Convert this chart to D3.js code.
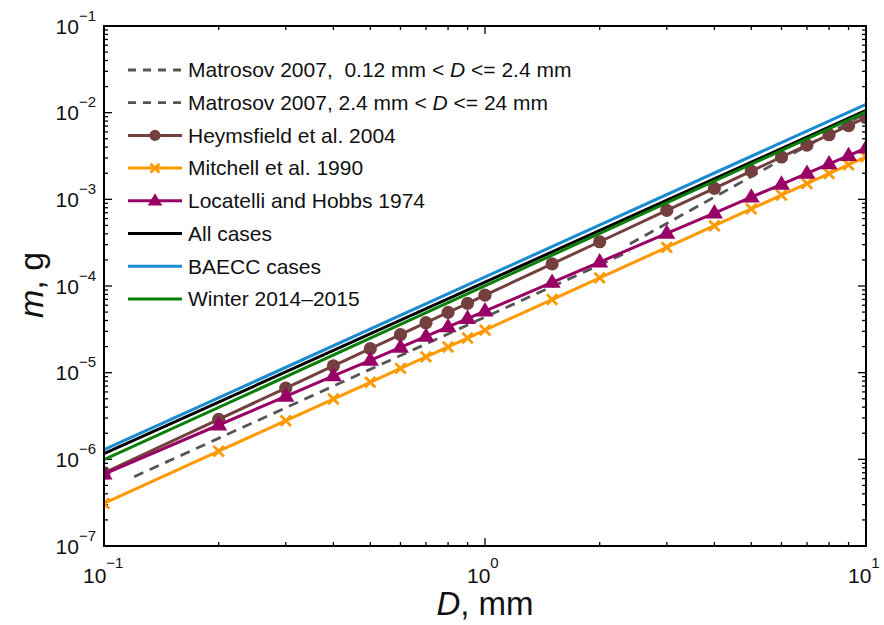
<!DOCTYPE html>
<html>
<head>
<meta charset="utf-8">
<script src="https://cdn.jsdelivr.net/npm/d3@7"></script>
<style>
  body { margin: 0; background: #fff; }
  svg { display: block; font-family: "Liberation Sans", Arial, sans-serif; }
</style>
</head>
<body>
<div id="chart"></div>
<script>
// ── Data ──
const D_MARKS = [0.1, 0.2, 0.3, 0.4, 0.5, 0.6, 0.7, 0.8, 0.9, 1, 1.5, 2, 3, 4, 5, 6, 7, 8, 9, 10];

const heymsfield = [6.98e-7, 2.89e-6, 6.64e-6, 1.20e-5, 1.89e-5, 2.75e-5, 3.77e-5, 4.96e-5, 6.31e-5, 7.83e-5,
                    1.80e-4, 3.24e-4, 7.45e-4, 1.34e-3, 2.12e-3, 3.08e-3, 4.23e-3, 5.56e-3, 7.08e-3, 8.79e-3];
const mitchell   = [3.10e-7, 1.24e-6, 2.79e-6, 4.96e-6, 7.75e-6, 1.12e-5, 1.52e-5, 1.98e-5, 2.51e-5, 3.10e-5,
                    6.98e-5, 1.24e-4, 2.79e-4, 4.96e-4, 7.75e-4, 1.12e-3, 1.52e-3, 1.98e-3, 2.51e-3, 3.10e-3];
const locatelli  = [6.76e-7, 2.49e-6, 5.34e-6, 9.16e-6, 1.39e-5, 1.96e-5, 2.62e-5, 3.37e-5, 4.21e-5, 5.13e-5,
                    1.10e-4, 1.89e-4, 4.05e-4, 6.95e-4, 1.06e-3, 1.49e-3, 1.99e-3, 2.56e-3, 3.19e-3, 3.89e-3];

const matrosovD1 = [0.12, 2.4];
const matrosovM1 = [6.3e-7, 2.52e-4];
const matrosovD2 = [2.4, 10];
const matrosovM2 = [3.06e-4, 9.9e-3];

const FIT_D    = [0.1, 10];
const allCases = [1.16e-6, 1.06e-2];
const baecc    = [1.29e-6, 1.25e-2];
const winter   = [9.9e-7, 1.02e-2];

const X_TICK_EXP = [-1, 0, 1];
const Y_TICK_EXP = [-7, -6, -5, -4, -3, -2, -1];

// label parts: [text, italic]
const SERIES = [
  { label: [["Matrosov 2007,\u00a0\u00a00.12 mm < ", 0], ["D", 1], [" <= 2.4 mm", 0]],
    D: matrosovD1, m: matrosovM1, color: "#555555", dash: "10,7", width: 2.8 },
  { label: [["Matrosov 2007, 2.4 mm < ", 0], ["D", 1], [" <= 24 mm", 0]],
    D: matrosovD2, m: matrosovM2, color: "#555555", dash: "10,7", width: 2.8 },
  { label: [["Heymsfield et al. 2004", 0]],   D: D_MARKS, m: heymsfield, color: "#74403f", marker: "circle",   width: 3 },
  { label: [["Mitchell et al. 1990", 0]],     D: D_MARKS, m: mitchell,   color: "#ff9900", marker: "x",        width: 3 },
  { label: [["Locatelli and Hobbs 1974", 0]], D: D_MARKS, m: locatelli,  color: "#990066", marker: "triangle", width: 3 },
  { label: [["All cases", 0]],                D: FIT_D, m: allCases, color: "#000000", width: 3 },
  { label: [["BAECC cases", 0]],              D: FIT_D, m: baecc,    color: "#1a8bd0", width: 3 },
  { label: [["Winter 2014\u20132015", 0]],    D: FIT_D, m: winter,   color: "#0a7f0a", width: 3 },
];

// ── Layout ──
const W = 884, H = 625;
const L = 104, R = 866, T = 26, B = 546;

const svg = d3.select("#chart").append("svg").attr("width", W).attr("height", H);

const x = d3.scaleLog().domain([0.1, 10]).range([L, R]);
const y = d3.scaleLog().domain([1e-7, 1e-1]).range([B, T]);

svg.append("defs").append("clipPath").attr("id", "plot-clip")
  .append("rect").attr("x", L).attr("y", T).attr("width", R - L).attr("height", B - T);

// ── Ticks (inward, mirrored on all four sides) ──
const isMajor = v => Math.abs(Math.log10(v) - Math.round(Math.log10(v))) < 1e-9;

const tickG = svg.append("g").attr("stroke", "#000").attr("stroke-width", 1.3);
x.ticks().forEach(v => {
  const len = isMajor(v) ? 8 : 4;
  tickG.append("line").attr("x1", x(v)).attr("x2", x(v)).attr("y1", B).attr("y2", B - len);
  tickG.append("line").attr("x1", x(v)).attr("x2", x(v)).attr("y1", T).attr("y2", T + len);
});
y.ticks().forEach(v => {
  const len = isMajor(v) ? 8 : 4;
  tickG.append("line").attr("y1", y(v)).attr("y2", y(v)).attr("x1", L).attr("x2", L + len);
  tickG.append("line").attr("y1", y(v)).attr("y2", y(v)).attr("x1", R).attr("x2", R - len);
});

// ── Series ──
const plot = svg.append("g").attr("clip-path", "url(#plot-clip)");
const line = d3.line().x(d => x(d[0])).y(d => y(d[1]));

function drawMarker(g, type, cx, cy, color, s = 1) {
  if (type === "circle") {
    g.append("circle").attr("cx", cx).attr("cy", cy).attr("r", 6.6 * s).attr("fill", color);
  } else if (type === "triangle") {
    const r = 9 * s;
    g.append("path")
      .attr("d", `M${cx},${cy - r}L${cx + r * 0.95},${cy + r * 0.6}L${cx - r * 0.95},${cy + r * 0.6}Z`)
      .attr("fill", color);
  } else if (type === "x") {
    const r = 5.2 * s;
    g.append("path")
      .attr("d", `M${cx - r},${cy - r}L${cx + r},${cy + r}M${cx - r},${cy + r}L${cx + r},${cy - r}`)
      .attr("stroke", color).attr("stroke-width", 2.8).attr("fill", "none");
  }
}

SERIES.forEach(s => {
  const pts = s.D.map((d, i) => [d, s.m[i]]);
  plot.append("path")
    .attr("d", line(pts))
    .attr("fill", "none")
    .attr("stroke", s.color)
    .attr("stroke-width", s.width)
    .attr("stroke-dasharray", s.dash || null);
  if (s.marker) {
    const mg = plot.append("g");
    pts.forEach(p => drawMarker(mg, s.marker, x(p[0]), y(p[1]), s.color));
  }
});

// ── Frame ──
svg.append("rect")
  .attr("x", L).attr("y", T).attr("width", R - L).attr("height", B - T)
  .attr("fill", "none").attr("stroke", "#000").attr("stroke-width", 2);

// ── Tick labels ──
function powLabel(sel, e, dy) {
  sel.append("tspan").text("10");
  sel.append("tspan").attr("font-size", 15).attr("dy", dy).text(e < 0 ? "\u2212" + (-e) : String(e));
}
X_TICK_EXP.forEach(e => {
  const t = svg.append("text")
    .attr("x", x(Math.pow(10, e)) - (e < 0 ? 21 : 18)).attr("y", B + 36.5)
    .attr("font-size", 21).attr("fill", "#111");
  powLabel(t, e, -15);
});
Y_TICK_EXP.forEach(e => {
  const t = svg.append("text")
    .attr("x", L - 8).attr("y", y(Math.pow(10, e)) + 7.7)
    .attr("text-anchor", "end").attr("font-size", 21).attr("fill", "#111");
  powLabel(t, e, -13);
});

// ── Axis labels ──
svg.append("text")
  .attr("x", 485).attr("y", 615)
  .attr("text-anchor", "middle").attr("font-size", 33).attr("fill", "#111")
  .call(t => {
    t.append("tspan").attr("font-style", "italic").text("D");
    t.append("tspan").text(", mm");
  });
svg.append("text")
  .attr("transform", "translate(43,285) rotate(-90)")
  .attr("text-anchor", "middle").attr("font-size", 34).attr("fill", "#111")
  .call(t => {
    t.append("tspan").attr("font-style", "italic").text("m");
    t.append("tspan").text(", g");
  });

// ── Legend ──
const leg = svg.append("g");
SERIES.forEach((s, i) => {
  const cy = 70 + 32.7 * i;
  leg.append("line")
    .attr("x1", 128).attr("x2", 182).attr("y1", cy).attr("y2", cy)
    .attr("stroke", s.color).attr("stroke-width", s.width)
    .attr("stroke-dasharray", s.dash ? "8,7" : null);
  if (s.marker) drawMarker(leg, s.marker, 155, cy, s.color, 0.85);
  const t = leg.append("text")
    .attr("x", 188).attr("y", cy + 7.3)
    .attr("font-size", 21).attr("fill", "#111")
    .style("white-space", "pre");
  s.label.forEach(([txt, ital]) => {
    t.append("tspan").attr("font-style", ital ? "italic" : null).text(txt);
  });
});
</script>
</body>
</html>
